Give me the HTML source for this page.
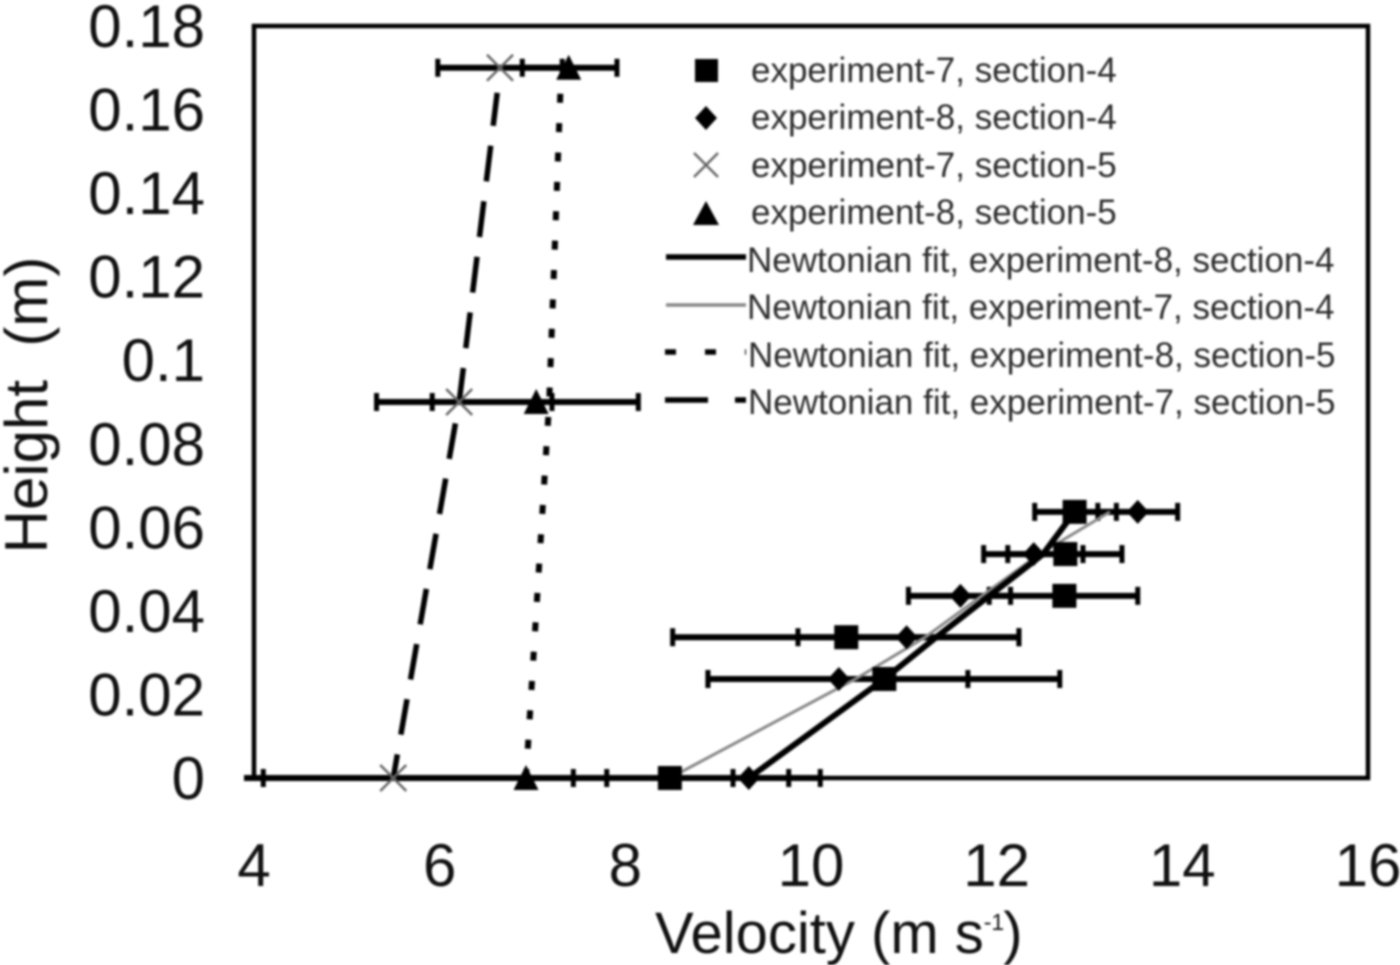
<!DOCTYPE html>
<html>
<head>
<meta charset="utf-8">
<title>Velocity vs Height</title>
<style>
html,body{margin:0;padding:0;background:#fff;width:1400px;height:965px;overflow:hidden}
svg{display:block;filter:blur(1.1px)}
text{font-family:"Liberation Sans",Arial,sans-serif}
.tick{font-size:60px;fill:#111}
.title{font-size:58px;fill:#111}
.leg{font-size:35px;fill:#2c2c2c}
</style>
</head>
<body>
<svg id="chart" xmlns="http://www.w3.org/2000/svg" width="1400" height="965" viewBox="0 0 1400 965">
  <rect x="0" y="0" width="1400" height="965" fill="#fff"/>
  <defs><clipPath id="plotClip"><rect x="244" y="20" width="1130" height="770"/></clipPath></defs>
  <rect x="254" y="26" width="1114" height="752" fill="none" stroke="#000" stroke-width="4.5"/>
  <g id="xticks"></g>
  <g id="yticks"></g>
  <g id="errs" clip-path="url(#plotClip)"></g>
  <g id="fits"></g>
  <g id="marks"></g>
  <text class="title" x="655" y="953">Velocity (m s<tspan font-size="23" dy="-23">-1</tspan><tspan dy="23" dx="-1">)</tspan></text>
  <text class="title" style="font-size:60px" transform="translate(47,405) rotate(-90)" text-anchor="middle" xml:space="preserve">Height  (m)</text>

  <g>
    <rect x="695" y="59" width="23" height="23" fill="#000"/>
    <polygon points="706,106 717,118 706,130 695,118" fill="#000"/>
    <g stroke="#666" stroke-width="2.5"><line x1="694" y1="153" x2="718" y2="177"/><line x1="718" y1="153" x2="694" y2="177"/></g>
    <polygon points="706,201 719,225 693,225" fill="#000"/>
    <line x1="666" y1="257" x2="746" y2="257" stroke="#000" stroke-width="5.5"/>
    <line x1="666" y1="305" x2="746" y2="305" stroke="#888" stroke-width="3.5"/>
    <line x1="665" y1="352" x2="746" y2="352" stroke="#000" stroke-width="5.5" stroke-dasharray="11 29"/>
    <line x1="665" y1="400" x2="746" y2="400" stroke="#000" stroke-width="5.5" stroke-dasharray="43 27"/>
    <text class="leg" x="751" y="82">experiment-7, section-4</text>
    <text class="leg" x="751" y="129">experiment-8, section-4</text>
    <text class="leg" x="751" y="177">experiment-7, section-5</text>
    <text class="leg" x="751" y="224">experiment-8, section-5</text>
    <text class="leg" x="747" y="272">Newtonian fit, experiment-8, section-4</text>
    <text class="leg" x="747" y="319">Newtonian fit, experiment-7, section-4</text>
    <text class="leg" x="748" y="367">Newtonian fit, experiment-8, section-5</text>
    <text class="leg" x="748" y="414">Newtonian fit, experiment-7, section-5</text>
  </g>
</svg>
<script>
var xTickValues = [4, 6, 8, 10, 12, 14, 16];
var yTickLabels = ["0", "0.02", "0.04", "0.06", "0.08", "0.1", "0.12", "0.14", "0.16", "0.18"];

var heightsSec4 = [0, 0.0237, 0.0337, 0.0436, 0.0536, 0.0637];
var heightsSec5 = [0, 0.09, 0.17];
var heightsFitSec5 = [0, 0.09, 0.164];

var exp7Sec4 = [8.48, 10.79, 10.38, 12.73, 12.74, 12.84];
var exp7Sec4Low = [7.80, 8.89, 8.51, 11.92, 12.12, 12.41];
var exp7Sec4High = [9.16, 12.68, 12.24, 13.52, 13.35, 13.29];

var exp8Sec4 = [9.33, 10.30, 11.03, 11.61, 12.40, 13.52];
var exp8Sec4Low = [8.57, 8.89, 9.86, 11.05, 11.86, 13.09];
var exp8Sec4High = [10.10, 11.69, 12.24, 12.15, 12.93, 13.95];

var exp7Sec5 = [5.50, 6.21, 6.65];
var exp7Sec5Low = [3.85, 5.32, 5.98];
var exp7Sec5High = [7.44, 7.21, 7.32];

var exp8Sec5 = [6.93, 7.04, 7.39];
var exp8Sec5Low = [4.10, 5.92, 6.89];
var exp8Sec5High = [9.76, 8.14, 7.91];

var fitExp8Sec4 = [9.33, 10.79, 11.35, 11.92, 12.50, 12.84];
var fitExp7Sec4 = [8.48, 10.48, 11.23, 11.84, 12.46, 13.22];
var fitExp8Sec5 = [6.93, 7.18, 7.30];
var fitExp7Sec5 = [5.50, 6.21, 6.62];

var NS = "http://www.w3.org/2000/svg";
function sx(v) { return 254 + (v - 4) * 92.83; }
function sy(h) { return 778 - h * 4177.8; }
function make(tag, attrs, parent) {
  var el = document.createElementNS(NS, tag);
  for (var k in attrs) { el.setAttribute(k, attrs[k]); }
  parent.appendChild(el);
  return el;
}

var xticksG = document.getElementById("xticks");
xTickValues.forEach(function (v) {
  var t = make("text", { x: sx(v), y: 886, "text-anchor": "middle", "class": "tick" }, xticksG);
  
  
  t.textContent = String(v);
});

var yticksG = document.getElementById("yticks");
yTickLabels.forEach(function (label) {
  var t = make("text", { x: 205, y: sy(parseFloat(label)) + 21, "text-anchor": "end", "class": "tick" }, yticksG);
  
  
  t.textContent = label;
});

var errsG = document.getElementById("errs");
function drawErrors(heights, low, high) {
  heights.forEach(function (h, i) {
    var y = sy(h);
    var bar = make("line", { x1: sx(low[i]), x2: sx(high[i]), y1: y, y2: y, stroke: "#000", "stroke-width": 6 }, errsG);
    
    
    [low[i], high[i]].forEach(function (v) {
      var cap = make("line", { x1: sx(v), x2: sx(v), y1: y - 9, y2: y + 9, stroke: "#000", "stroke-width": 5 }, errsG);
      
      
    });
  });
}
drawErrors(heightsSec4, exp7Sec4Low, exp7Sec4High);
drawErrors(heightsSec4, exp8Sec4Low, exp8Sec4High);
drawErrors(heightsSec5, exp7Sec5Low, exp7Sec5High);
drawErrors(heightsSec5, exp8Sec5Low, exp8Sec5High);

var fitsG = document.getElementById("fits");
function fitPoints(vals, heights) {
  return vals.map(function (v, i) { return sx(v) + "," + sy(heights[i]); }).join(" ");
}
var fit1 = make("polyline", { points: fitPoints(fitExp7Sec4, heightsSec4), fill: "none", stroke: "#888", "stroke-width": 3 }, fitsG);


var fit2 = make("polyline", { points: fitPoints(fitExp8Sec4, heightsSec4), fill: "none", stroke: "#000", "stroke-width": 6 }, fitsG);


var fit3 = make("polyline", { points: fitPoints(fitExp8Sec5, heightsFitSec5), fill: "none", stroke: "#000", "stroke-width": 6, "stroke-dasharray": "9 20.4" }, fitsG);


var fit4 = make("polyline", { points: fitPoints(fitExp7Sec5, heightsFitSec5), fill: "none", stroke: "#000", "stroke-width": 5.5, "stroke-dasharray": "36 20", "stroke-dashoffset": 12 }, fitsG);



var marksG = document.getElementById("marks");
exp7Sec5.forEach(function (v, i) {
  var x = sx(v), y = sy(heightsSec5[i]), r = 13;
  var c = make("path", { d: "M" + (x - r) + " " + (y - r) + "L" + (x + r) + " " + (y + r) + "M" + (x + r) + " " + (y - r) + "L" + (x - r) + " " + (y + r), stroke: "#666", "stroke-width": 2.5, fill: "none" }, marksG);
  
  
});
exp8Sec5.forEach(function (v, i) {
  var x = sx(v), y = sy(heightsSec5[i]);
  var c = make("polygon", { points: x + "," + (y - 13) + " " + (x + 12.5) + "," + (y + 12) + " " + (x - 12.5) + "," + (y + 12), fill: "#000" }, marksG);
  
  
});
exp8Sec4.forEach(function (v, i) {
  var x = sx(v), y = sy(heightsSec4[i]);
  var c = make("polygon", { points: x + "," + (y - 12) + " " + (x + 11) + "," + y + " " + x + "," + (y + 12) + " " + (x - 11) + "," + y, fill: "#000" }, marksG);
  
  
});
exp7Sec4.forEach(function (v, i) {
  var x = sx(v), y = sy(heightsSec4[i]);
  var c = make("rect", { x: x - 12, y: y - 12, width: 24, height: 24, fill: "#000" }, marksG);
  
  
});
</script>
</body>
</html>
